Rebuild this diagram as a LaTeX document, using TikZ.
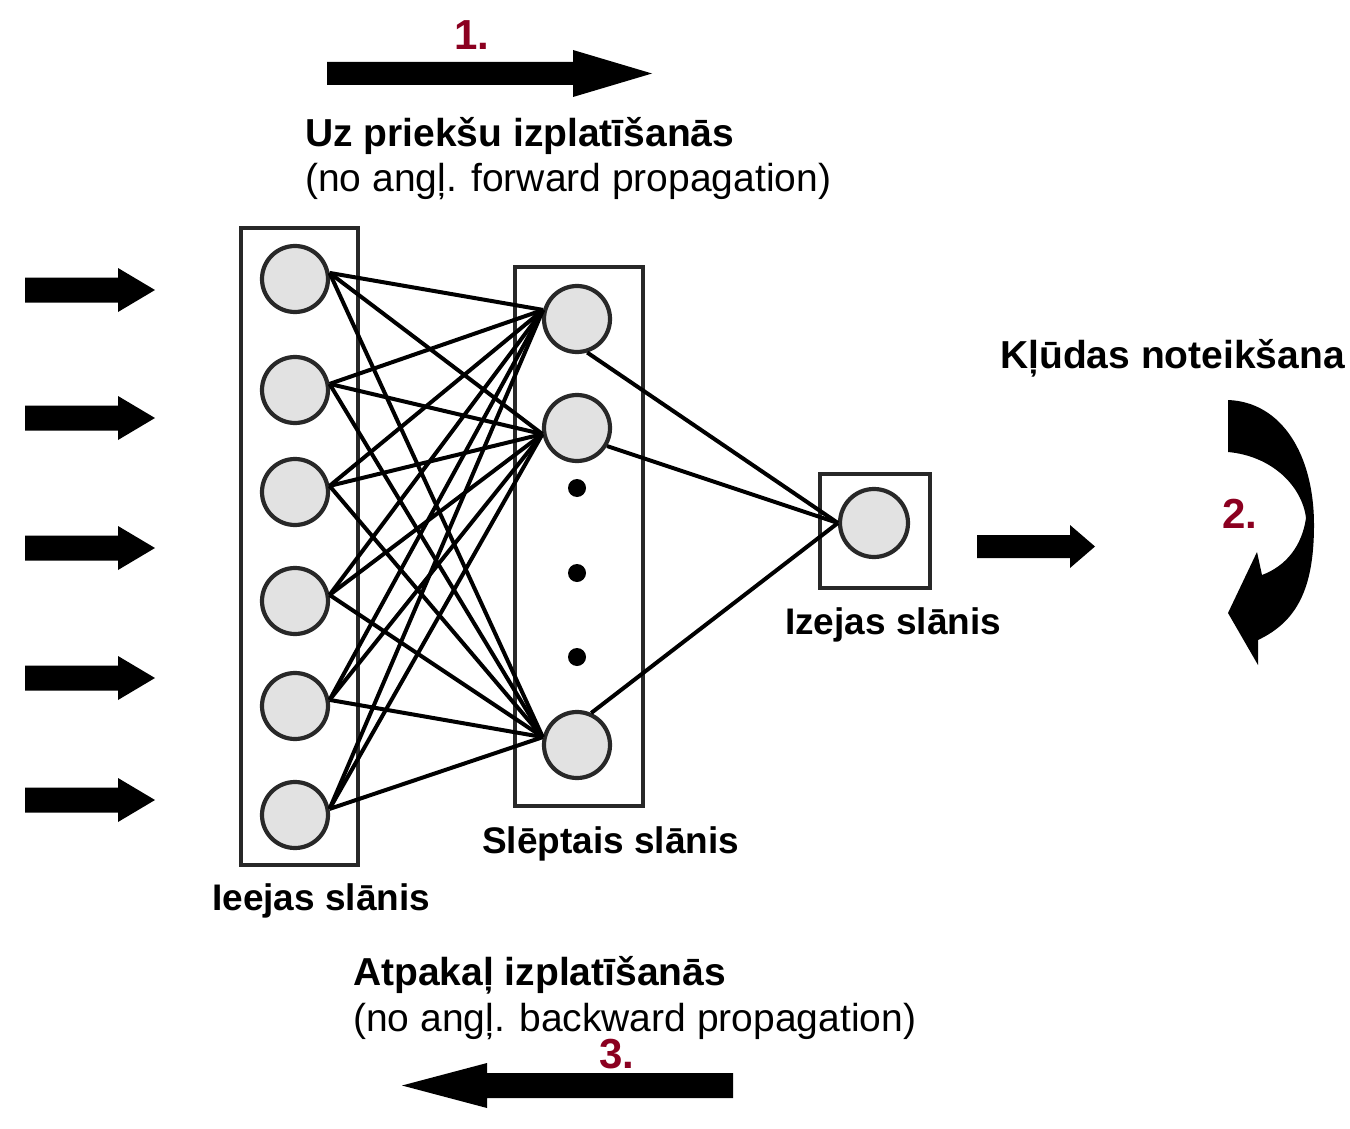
\documentclass[tikz,border=0pt]{standalone}
\usepackage{fontspec}
\setmainfont{Liberation Sans}
\definecolor{numred}{RGB}{139,0,32}
\definecolor{nodefill}{RGB}{226,226,226}
\definecolor{edgegray}{RGB}{40,40,40}
\tikzset{
  neuron/.style={circle,draw=edgegray,line width=4.2pt,fill=nodefill,minimum size=66pt,inner sep=0pt},
  layerbox/.style={draw=edgegray,line width=4.2pt},
  link/.style={line width=4pt,black},
  lbl/.style={anchor=base west,inner sep=0pt,font=\fontsize{39}{45}\selectfont},
  blbl/.style={lbl,font=\fontsize{39}{45}\selectfont\bfseries},
  layerlbl/.style={lbl,font=\fontsize{37}{43}\selectfont\bfseries},
  num/.style={lbl,font=\fontsize{42}{48}\selectfont\bfseries,text=numred},
  dotnode/.style={circle,fill=black,minimum size=18pt,inner sep=0pt},
  rarrow/.pic={\fill (0,-12.5) -- (93,-12.5) -- (93,-22) -- (130,0) -- (93,22) -- (93,12.5) -- (0,12.5) -- cycle;}
}
\begin{document}
\begin{tikzpicture}[x=1pt,y=-1pt]
\useasboundingbox (0,0) rectangle (1350,1129);
% layer boxes
\draw[layerbox] (241,228) rectangle (358,865);
\draw[layerbox] (515,267) rectangle (643,806);
\draw[layerbox] (820,474) rectangle (930,588);
% input neurons
\node[neuron] (i1) at (295,279) {};
\node[neuron] (i2) at (295,390) {};
\node[neuron] (i3) at (295,492) {};
\node[neuron] (i4) at (295,601) {};
\node[neuron] (i5) at (295,706) {};
\node[neuron] (i6) at (295,815) {};
% hidden neurons
\node[neuron] (h1) at (577,319) {};
\node[neuron] (h2) at (577,428) {};
\node[neuron] (h3) at (577,745) {};
\node[dotnode] (d1) at (577,488) {};
\node[dotnode] (d2) at (577,573) {};
\node[dotnode] (d3) at (577,657) {};
% output neuron
\node[neuron,minimum size=68pt] (o) at (874,523) {};
% connections input -> hidden
\foreach \i in {1,...,6}{
  \draw[link] (i\i.10) -- (h1.165);
  \draw[link] (i\i.10) -- (h2.190);
  \draw[link] (i\i.10) -- (h3.167);
}
% connections hidden -> output
\draw[link] (h1.287) -- (o.west);
\draw[link] (h2.329) -- (o.west);
\draw[link] (h3.66) -- (o.west);
% input arrows
\foreach \y in {290,418,548,678,800}{
  \pic at (25,\y) {rarrow};
}
% top arrow (forward)
\fill (327,62) -- (573,62) -- (573,50) -- (652,73.5) -- (573,97) -- (573,85) -- (327,85) -- cycle;
% bottom arrow (backward)
\fill (733,1073) -- (487,1073) -- (487,1063) -- (402,1085.5) -- (487,1108) -- (487,1098) -- (733,1098) -- cycle;
% output arrow
\fill (977,535) -- (1070,535) -- (1070,525) -- (1095,546.5) -- (1070,568) -- (1070,558) -- (977,558) -- cycle;
% curved arrow (error)
\fill (1228,400) -- (1228,452) .. controls (1272,456) and (1302,486) .. (1306,518)
  .. controls (1302,546) and (1286,566) .. (1262,575) -- (1257,552) -- (1228,613)
  -- (1258,665) -- (1258,640) .. controls (1296,622) and (1314,590) .. (1314,525)
  .. controls (1314,455) and (1282,402) .. (1228,400) -- cycle;
% texts
\node[num,anchor=base] (n1) at (472,50) {1.};
\node[num] (n2) at (1222,528) {2.};
\node[num] (n3) at (599,1068) {3.};
\node[blbl] (t1a) at (305,147) {Uz priekšu izplatīšanās};
\node[lbl] (t1b) at (305,192) {(no angļ. forward propagation)};
\node[blbl] (t2) at (1000,368) {Kļūdas noteikšana};
\node[blbl] (t3a) at (353,985) {Atpakaļ izplatīšanās};
\node[lbl] (t3b) at (353,1031) {(no angļ. backward propagation)};
\node[layerlbl] (li) at (212,910) {Ieejas slānis};
\node[layerlbl] (lh) at (482,853) {Slēptais slānis};
\node[layerlbl] (lo) at (785,634) {Izejas slānis};
\end{tikzpicture}
\end{document}
